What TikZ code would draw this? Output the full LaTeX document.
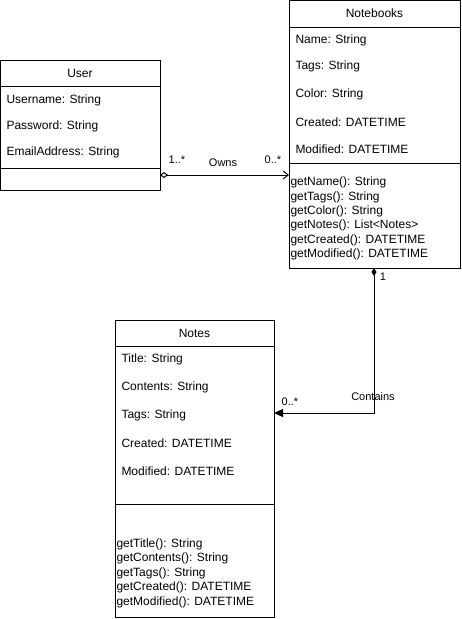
\documentclass[tikz,border=0pt]{standalone}
\usepackage{fontspec}
\setmainfont{Liberation Sans}
\usetikzlibrary{arrows.meta, positioning}

\begin{document}
\begin{tikzpicture}[
    x=1pt, y=-1pt, line width=1pt,
    every node/.style={inner sep=0pt, font=\fontsize{12}{14}\selectfont}
]
\tikzset{
    classbox/.style={draw, rectangle, anchor=north west},
    titulo/.style={anchor=center},
    campo/.style={anchor=west},
    rotulo/.style={font=\fontsize{11}{13}\selectfont}
}
\useasboundingbox (0,0) rectangle (461,619);

% User
\node[classbox, minimum width=160pt, minimum height=130pt] (user) at (0,60) {};
\node[titulo] (userT) at (80,73) {User};
\draw (0,86) -- (160,86);
\draw (0,168) -- (160,168);
\node[campo] (u1) at (6,100) {Username: String};
\node[campo] (u2) at (6,126) {Password: String};
\node[campo] (u3) at (6,152) {EmailAddress: String};

% Notebooks
\node[classbox, minimum width=171pt, minimum height=268pt] (nb) at (289,0) {};
\node[titulo] (nbT) at (374.5,13) {Notebooks};
\draw (289,27) -- (460,27);
\draw (289,163) -- (460,163);
\node[campo] (n1) at (295,40) {Name: String};
\node[campo] (n2) at (295,66) {Tags: String};
\node[campo] (n3) at (295,94) {Color: String};
\node[campo] (n4) at (295,122) {Created: DATETIME};
\node[campo] (n5) at (295,149) {Modified: DATETIME};
\node[campo] (m1) at (290,182) {getName(): String};
\node[campo] (m2) at (290,197) {getTags(): String};
\node[campo] (m3) at (290,211) {getColor(): String};
\node[campo] (m4) at (290,225) {getNotes(): List<Notes>};
\node[campo] (m5) at (290,240) {getCreated(): DATETIME};
\node[campo] (m6) at (290,254) {getModified(): DATETIME};

% Notes
\node[classbox, minimum width=159pt, minimum height=297pt] (notes) at (115,320) {};
\node[titulo] (notesT) at (194.5,333) {Notes};
\draw (115,346) -- (274,346);
\draw (115,504) -- (274,504);
\node[campo] (t1) at (121,359) {Title: String};
\node[campo] (t2) at (121,387) {Contents: String};
\node[campo] (t3) at (121,415) {Tags: String};
\node[campo] (t4) at (121,443) {Created: DATETIME};
\node[campo] (t5) at (121,471) {Modified: DATETIME};
\node[campo] (g1) at (116,544) {getTitle(): String};
\node[campo] (g2) at (116,558) {getContents(): String};
\node[campo] (g3) at (116,573) {getTags(): String};
\node[campo] (g4) at (116,587) {getCreated(): DATETIME};
\node[campo] (g5) at (116,602) {getModified(): DATETIME};

% ligacoes
\coordinate (ownsA) at (160,175);
\coordinate (ownsB) at (289,175);
\draw[{Diamond[open,length=8pt,width=6pt]}-{Straight Barb[length=5pt,width=8pt]}]
    (ownsA) -- (ownsB);
\node[rotulo] (ownsL) at (223,163) {Owns};
\node[rotulo] (ownsM1) at (177,160) {1..*};
\node[rotulo] (ownsM2) at (273,160) {0..*};

\coordinate (contA) at (374,268);
\coordinate (contB) at (274,413);
\draw[{Diamond[length=8pt,width=5pt]}-{Triangle[length=9pt,width=8pt]}]
    (contA) |- (contB);
\node[rotulo] (contL) at (373,397) {Contains};
\node[rotulo] (contM1) at (383,277) {1};
\node[rotulo] (contM2) at (290,402) {0..*};
\end{tikzpicture}
\end{document}
